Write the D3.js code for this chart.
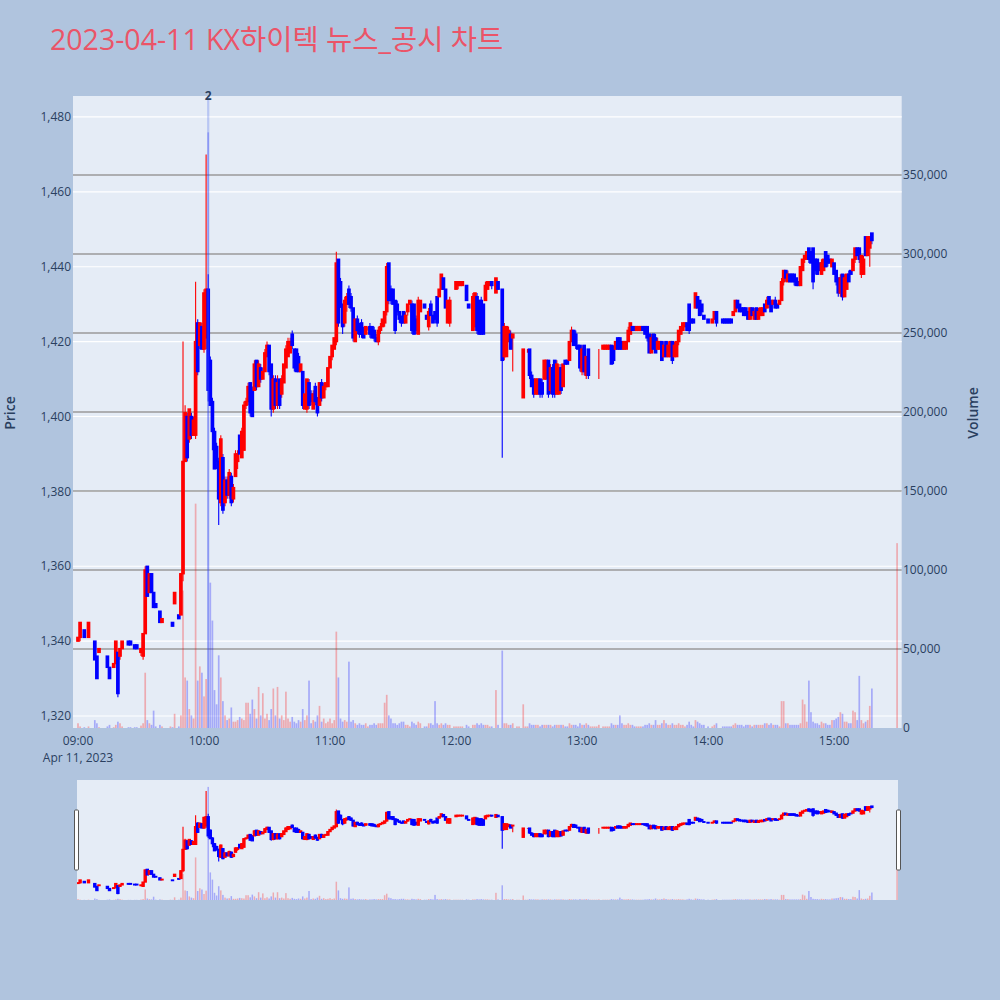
<!DOCTYPE html>
<html><head><meta charset="utf-8">
<script src="https://cdn.jsdelivr.net/npm/d3@7"></script>
<style>
body{margin:0;background:#b0c4de;}
svg text{font-family:"Open Sans","Noto Sans CJK KR",sans-serif;}
</style>
</head><body>
<svg id="chart" width="1000" height="1000"></svg>
<script>
// ---------------- DATA ----------------
const chartTitle = "2023-04-11 KX하이텍 뉴스_공시 차트";
const tradeDate = "Apr 11, 2023";
// minutes after 09:00 for each one-minute candle
const tradeMinutes = [
0,1,3,5,8,9,10,14,15,17,18,19,20,21,24,25,27,28,30,31,32,33,34,35,36,37,39,40,44,45,46,48,49,
50,51,52,53,54,55,56,57,58,59,60,61,62,63,64,65,66,67,68,69,70,71,72,73,74,75,76,77,78,79,
80,81,82,83,84,85,86,87,88,89,90,91,92,93,94,95,96,97,98,99,100,101,102,103,104,105,106,107,108,109,
110,111,112,113,114,115,116,117,118,119,120,121,122,123,124,125,126,127,128,129,130,131,132,133,134,135,136,137,138,139,
140,141,142,143,144,145,146,147,148,149,150,151,152,153,154,155,156,157,158,159,160,161,162,163,
165,166,167,168,169,170,171,172,173,174,175,176,177,
179,180,181,182,183,185,186,
188,189,190,191,192,193,194,195,196,197,
199,200,
202,203,204,205,206,207,
209,210,
212,213,214,215,216,217,218,219,220,221,222,223,224,225,226,227,228,229,230,231,232,233,234,235,236,237,238,239,240,241,242,243,244,245,246,247,248,
250,251,252,253,254,255,256,257,258,259,260,261,262,263,264,265,266,267,268,269,270,271,272,273,274,275,276,277,278,279,280,281,282,283,284,285,286,287,288,289,290,291,292,293,294,295,296,297,298,
300,302,303,304,
307,308,309,310,311,312,313,314,315,316,317,318,319,320,321,322,323,324,325,326,327,328,329,330,331,332,333,334,335,336,337,338,339,340,341,342,343,344,345,346,347,348,349,350,351,352,353,354,355,356,357,358,359,360,361,362,363,364,365,366,367,368,369,370,371,372,373,374,375,376,377,378,
390];
const openPrices = [
1340,1341,1343,1341,1340,1336,1337,1336,1333,1333,1334,1337,1336,1338,1340,1340,1339,1339,1337,1336,1342,1360,1353,1358,1353,1350,1348,1345,1353,1345,1350,1347,1347,
1358,1388,1400,1394,1400,1395,1395,1425,1419,1424,
1418,1421,1434,1415,1404,1396,1392,1388,1377,1389,
1377,1383,1379,1384,1378,1384,1388,1395,1389,1391,
1403,1404,1409,1407,1407,1415,1408,1413,1410,1412,
1416,1419,1414,1402,1410,1403,1410,1406,1409,1413,
1416,1417,1422,1418,1418,1416,1412,1412,1402,1402,
1409,1406,1402,1408,1405,1403,1409,1405,1408,1408,
1413,1416,1418,1420,1442,1436,1430,1425,1430,1434,
1432,1429,1420,1426,1424,1425,1423,1422,1424,1424,
1424,1423,1421,1420,1423,1424,1425,1428,1441,1434,
1434,1431,1430,1428,1426,1428,1425,1428,1430,1430,
1430,1426,1422,1428,
1430,1427,1424,1430,1427,1428,1432,1432,1434,1437,1434,1425,1425,
1435,1434,1435,1435,1435,1435,1430,
1423,1424,1432,1431,1431,1430,1431,1434,1435,1436,
1433,1436,
1434,1416,1416,1420,1422,1421,
1422,1422,
1405,1418,1418,1418,1411,1410,1406,1406,1410,1409,
1410,1410,1415,1407,1413,1415,1406,1406,1413,1408,
1415,1415,1415,1420,1423,1422,1419,1419,1412,1419,
1411,1418,1418,1418,1418,1418,1418,
1418,1418,1418,1418,1419,1418,1418,1421,1421,1420,
1418,1418,1420,1422,1424,1424,1423,1423,1423,1424,
1424,1424,1422,1417,1422,1421,1418,1418,1420,1416,
1420,1416,1416,1420,1416,1416,1420,1422,1423,1424,
1425,1430,1426,1426,1429,1432,1431,1430,1427,
1426,1425,1426,1428,
1426,1426,1426,1426,1426,1427,1428,1431,1430,1429,
1429,1429,1428,1426,1429,1426,1429,1426,1427,1427,
1430,1429,1432,1431,1430,1431,1430,1430,1431,1436,
1439,1436,1438,1438,1438,1437,1436,1435,1439,1442,
1442,1445,1444,1445,1442,1442,1441,1438,1439,1444,
1443,1442,1440,1441,1439,1437,1433,1438,1432,1434,
1438,1439,1439,1442,1445,1445,1438,1438,1448,1443,
1445,1449,
1450];
const highPrices = [
1341,1345,1343,1345,1340,1336,1338,1336,1333,1334,1340,1337,1338,1340,1340,1340,1339,1339,1338,1342,1360,1360,1358,1358,1353,1350,1348,1346,1353,1345,1353,1347,1358,
1420,1403,1401,1402,1401,1400,1436,1426,1425,1425,
1434,1470,1438,1416,1405,1397,1393,1389,1395,1390,
1384,1384,1386,1385,1382,1391,1391,1395,1397,1404,
1405,1409,1409,1408,1415,1415,1415,1414,1413,1418,
1420,1419,1414,1411,1411,1411,1410,1411,1414,1419,
1421,1421,1423,1418,1418,1417,1414,1412,1406,1410,
1410,1407,1407,1409,1405,1409,1410,1409,1409,1413,
1416,1419,1421,1444,1442,1437,1430,1432,1433,1435,
1433,1429,1426,1427,1425,1426,1424,1424,1424,1425,
1424,1424,1422,1424,1425,1426,1428,1441,1441,1435,
1434,1431,1431,1428,1427,1428,1428,1430,1431,1431,
1430,1427,1432,1431,
1430,1427,1429,1431,1427,1428,1432,1434,1438,1437,1434,1431,1432,
1435,1436,1436,1436,1436,1435,1430,
1433,1433,1433,1431,1432,1430,1436,1436,1436,1436,
1437,1436,
1434,1425,1424,1424,1423,1422,
1422,1422,
1418,1418,1418,1418,1412,1410,1410,1410,1410,1410,
1415,1415,1415,1414,1414,1415,1415,1414,1414,1414,
1415,1415,1420,1424,1423,1423,1419,1419,1419,1419,
1416,1418,1418,1418,1418,1418,1418,
1419,1419,1419,1419,1419,1419,1420,1421,1421,1420,
1420,1420,1424,1425,1424,1424,1424,1424,1424,1424,
1424,1424,1422,1422,1422,1422,1421,1420,1420,1420,
1420,1420,1420,1420,1420,1420,1423,1424,1425,1425,
1425,1430,1426,1426,1433,1432,1431,1430,1427,
1426,1426,1428,1428,
1426,1426,1426,1426,1426,1428,1431,1431,1430,1429,
1429,1429,1428,1429,1429,1429,1429,1429,1429,1429,
1430,1432,1432,1431,1431,1432,1430,1431,1437,1439,
1439,1439,1438,1438,1438,1437,1436,1440,1442,1443,
1444,1445,1444,1445,1442,1442,1441,1442,1442,1444,
1443,1442,1442,1441,1439,1437,1438,1438,1438,1438,
1439,1439,1442,1445,1445,1445,1443,1443,1448,1448,
1448,1449,
1450];
const lowPrices = [
1340,1340,1341,1341,1335,1330,1337,1333,1330,1333,1334,1325,1335,1338,1339,1339,1338,1338,1336,1335,1342,1352,1353,1353,1349,1349,1345,1345,1353,1344,1350,1346,1347,
1356,1388,1388,1393,1394,1395,1394,1411,1418,1418,
1417,1418,1404,1403,1391,1386,1386,1371,1376,1374,
1376,1378,1378,1376,1377,1384,1386,1390,1389,1391,
1402,1403,1400,1400,1407,1407,1408,1409,1410,1412,
1416,1411,1400,1401,1402,1402,1402,1405,1409,1413,
1416,1417,1418,1412,1412,1412,1412,1402,1402,1401,
1402,1403,1402,1403,1400,1403,1404,1405,1407,1408,
1413,1415,1418,1419,1424,1429,1422,1424,1428,1429,
1428,1420,1420,1422,1421,1421,1421,1422,1423,1421,
1421,1420,1420,1419,1422,1424,1424,1427,1430,1430,
1430,1422,1427,1425,1424,1425,1425,1427,1430,1422,
1422,1422,1422,1428,
1429,1426,1423,1427,1425,1425,1424,1432,1434,1434,1429,1425,1424,
1435,1434,1434,1435,1435,1431,1429,
1423,1423,1422,1422,1422,1422,1431,1434,1435,1434,
1433,1434,
1389,1415,1416,1420,1418,1412,
1422,1422,
1405,1418,1417,1410,1408,1405,1406,1406,1405,1405,
1410,1410,1405,1406,1405,1405,1406,1406,1406,1408,
1414,1414,1415,1420,1419,1418,1418,1412,1411,1411,
1410,1410,1418,1418,1418,1418,1410,
1418,1418,1418,1418,1414,1414,1418,1418,1418,1418,
1418,1418,1420,1422,1423,1423,1423,1423,1423,1423,
1422,1420,1417,1417,1418,1417,1418,1418,1415,1416,
1416,1416,1416,1414,1416,1416,1419,1422,1423,1424,
1423,1422,1425,1425,1429,1429,1427,1427,1426,
1425,1425,1426,1424,
1425,1425,1425,1425,1425,1427,1428,1429,1428,1428,
1427,1427,1426,1426,1427,1426,1426,1426,1427,1427,
1428,1429,1429,1428,1430,1429,1429,1430,1431,1435,
1436,1436,1436,1436,1435,1435,1435,1435,1439,1441,
1442,1441,1441,1434,1438,1438,1439,1438,1439,1440,
1440,1441,1440,1438,1435,1432,1432,1431,1432,1434,
1436,1438,1439,1441,1443,1441,1437,1438,1443,1443,
1440,1446,
1450];
const closePrices = [
1341,1345,1341,1345,1335,1330,1338,1333,1330,1334,1340,1326,1338,1340,1339,1339,1338,1338,1338,1342,1359,1352,1358,1353,1349,1349,1345,1346,1353,1344,1353,1346,1358,
1388,1401,1389,1402,1395,1399,1420,1412,1425,1418,
1433,1434,1407,1403,1396,1386,1388,1378,1394,1375,
1383,1379,1385,1377,1381,1390,1390,1390,1396,1403,
1404,1408,1401,1400,1414,1408,1414,1410,1412,1417,
1419,1412,1402,1410,1403,1409,1403,1410,1414,1418,
1420,1420,1419,1413,1412,1412,1414,1403,1406,1410,
1403,1404,1406,1404,1401,1409,1405,1408,1409,1413,
1416,1419,1421,1441,1425,1430,1424,1431,1432,1430,
1429,1421,1426,1423,1422,1422,1421,1424,1424,1422,
1421,1421,1420,1423,1424,1426,1428,1440,1431,1431,
1430,1423,1428,1426,1425,1425,1427,1430,1431,1423,
1422,1423,1431,1431,
1429,1426,1428,1427,1425,1426,1425,1434,1438,1434,1429,1431,1431,
1435,1436,1436,1436,1436,1431,1429,
1432,1433,1423,1422,1422,1422,1435,1436,1436,1435,
1437,1434,
1415,1424,1424,1423,1418,1422,
1422,1422,
1418,1418,1418,1411,1408,1406,1410,1410,1406,1406,
1415,1415,1406,1413,1406,1406,1414,1413,1407,1414,
1414,1414,1420,1423,1419,1419,1418,1413,1418,1412,
1416,1411,1418,1418,1418,1418,1418,
1419,1419,1419,1419,1414,1415,1420,1418,1418,1418,
1420,1420,1423,1425,1423,1423,1424,1424,1424,1423,
1422,1421,1417,1421,1418,1417,1420,1420,1415,1419,
1416,1419,1420,1415,1419,1420,1423,1424,1425,1425,
1423,1423,1425,1425,1433,1429,1427,1428,1426,
1425,1426,1428,1425,
1425,1425,1425,1425,1425,1428,1431,1429,1428,1428,
1427,1427,1426,1429,1427,1428,1426,1428,1429,1429,
1428,1431,1430,1428,1431,1429,1429,1431,1436,1439,
1437,1438,1436,1436,1436,1435,1435,1440,1442,1443,
1444,1442,1441,1436,1439,1438,1439,1441,1442,1440,
1441,1441,1442,1438,1436,1433,1437,1432,1437,1438,
1436,1438,1442,1445,1443,1442,1443,1442,1443,1448,
1448,1447,
1450];
const volumes = [
3000,1000,500,1000,5000,3000,500,1000,2000,500,2000,4000,3000,1000,500,500,500,500,1500,3000,35000,5000,3000,2000,11000,1000,2000,1000,1000,500,9000,1000,8000,
87000,32000,30000,12000,8000,6000,142000,30000,39000,35000,
20000,31000,377000,92000,68000,24000,15000,46000,32000,17000,
8000,5000,6000,13000,4000,4000,5000,7000,6000,5000,
16000,16000,9000,18000,12000,6000,26000,8000,22000,6000,
9000,5000,12000,25000,8000,26000,6000,8000,5000,23000,
6000,4000,7000,4000,3000,5000,4000,12000,5000,8000,
30000,3000,5000,4000,8000,14000,4000,6000,3000,4000,
6000,3000,5000,61000,32000,6000,4000,5000,4000,42000,
4000,5000,3000,2000,3000,2000,2000,3000,1000,2000,
2000,3000,2000,3000,3000,3000,16000,21000,8000,6000,
3000,3000,2000,3000,4000,4000,2000,2000,1000,4000,
3000,2000,4000,3000,
1000,1000,3000,3000,2000,17000,3000,2000,3000,2000,3000,2000,2000,
1000,1000,1000,1000,1000,2000,1000,
2000,2000,3000,2000,3000,2000,2000,2000,1000,1000,
24000,2000,
49000,3000,3000,2000,2000,3000,
1000,1000,
15000,1000,1000,3000,2000,2000,2000,2000,1000,2000,
2000,2000,2000,2000,1000,2000,2000,2000,2000,2000,
1000,1000,3000,2000,2000,2000,1000,3000,2000,2000,
3000,2000,1000,1000,1000,1000,2000,
1000,1000,1000,1000,3000,2000,2000,2000,8000,3000,
2000,2000,3000,2000,2000,1000,1000,1000,1000,1000,
2000,2000,3000,2000,2000,5000,2000,2000,3000,5000,
3000,2000,2000,3000,2000,2000,3000,2000,2000,1000,
2000,4000,2000,1000,5000,4000,3000,2000,2000,
1000,1000,2000,3000,
1000,1000,1000,1000,1000,2000,3000,2000,2000,2000,
1000,2000,2000,2000,1000,2000,2000,2000,2000,2000,
3000,3000,2000,3000,2000,2000,2000,1000,17000,17000,
3000,3000,2000,2000,2000,2000,2000,3000,18000,15000,
4000,30000,10000,4000,3000,3000,2000,4000,3000,3000,
2000,2000,5000,5000,6000,7000,10000,9000,4000,4000,
3000,3000,11000,10000,5000,33000,5000,3000,4000,5000,
14000,25000,
117000];
const priceTicks = [1320,1340,1360,1380,1400,1420,1440,1460,1480];
const volumeTicks = [0,50000,100000,150000,200000,250000,300000,350000];
const timeTickLabels = ["09:00","10:00","11:00","12:00","13:00","14:00","15:00"];
const newsMinutes = [62];      // 10:02
const newsCounts = ["2"];

// ---------------- DRAWING ----------------
const svg = d3.select("#chart");
const plot = {left:73, right:901.7, top:96, bottom:728};
const base = new Date(2023,3,11,9,0);
const toDate = m => new Date(base.getTime() + m*60000);
const parseHM = s => { const [h,mm] = s.split(":").map(Number); return (h-9)*60+mm; };

const x = d3.scaleTime().domain([toDate(-2.38), toDate(392.2)]).range([plot.left, plot.right]);
const yP = d3.scaleLinear().domain([1316.8,1485.6]).range([plot.bottom, plot.top]);
const yV = d3.scaleLinear().domain([0,400000]).range([plot.bottom, plot.top]);

const data = tradeMinutes.map((m,i)=>({t:toDate(m), o:openPrices[i], h:highPrices[i], l:lowPrices[i], c:closePrices[i], v:volumes[i]}));
const UP = "#ff0000", DOWN = "#0000ff";
const isUp = d => d.c >= d.o;

svg.append("rect").attr("width",1000).attr("height",1000).attr("fill","#b0c4de");
svg.append("rect").attr("x",plot.left).attr("y",plot.top)
  .attr("width",plot.right-plot.left).attr("height",plot.bottom-plot.top).attr("fill","#e5ecf6");

const defs = svg.append("defs");
defs.append("clipPath").attr("id","clipMain").append("rect")
  .attr("x",plot.left).attr("y",plot.top).attr("width",plot.right-plot.left).attr("height",plot.bottom-plot.top);

// gridlines
svg.append("g").selectAll("line").data(priceTicks).join("line")
  .attr("x1",plot.left).attr("x2",plot.right)
  .attr("y1",d=>yP(d)).attr("y2",d=>yP(d))
  .attr("stroke","#ffffff").attr("stroke-width",1.2);
svg.append("g").selectAll("line").data(volumeTicks.filter(d=>d>0)).join("line")
  .attr("x1",plot.left).attr("x2",plot.right)
  .attr("y1",d=>yV(d)).attr("y2",d=>yV(d))
  .attr("stroke","#9a9a9a").attr("stroke-width",1.3);

function drawCandles(g, xs, ys, bodyW, strokeW){
  g.selectAll("line.wick").data(data).join("line").attr("class","wick")
    .attr("x1",d=>xs(d.t)).attr("x2",d=>xs(d.t))
    .attr("y1",d=>ys(d.h)).attr("y2",d=>ys(d.l))
    .attr("stroke",d=>isUp(d)?UP:DOWN).attr("stroke-width",1.1);
  g.selectAll("rect.body").data(data).join("rect").attr("class","body")
    .attr("x",d=>xs(d.t)-bodyW/2).attr("width",bodyW)
    .attr("y",d=>Math.min(ys(d.o),ys(d.c)))
    .attr("height",d=>Math.abs(ys(d.o)-ys(d.c)))
    .attr("fill",d=>isUp(d)?UP:DOWN)
    .attr("stroke",d=>isUp(d)?UP:DOWN).attr("stroke-width",strokeW);
}
function drawVolume(g, xs, ys, w){
  g.selectAll("rect.vol").data(data).join("rect").attr("class","vol")
    .attr("x",d=>xs(d.t)-w/2).attr("width",w)
    .attr("y",d=>ys(d.v)).attr("height",d=>ys(0)-ys(d.v))
    .attr("fill",d=>isUp(d)?"rgba(255,0,0,0.28)":"rgba(0,0,255,0.28)");
}

const main = svg.append("g").attr("clip-path","url(#clipMain)");
drawCandles(main.append("g"), x, yP, 2.3, 1.4);
drawVolume(main.append("g"), x, yV, 1.7);

// news marker
const newsG = svg.append("g");
newsMinutes.forEach((m,i)=>{
  const nx = x(toDate(m));
  newsG.append("line").attr("x1",nx).attr("x2",nx).attr("y1",plot.top).attr("y2",plot.bottom)
    .attr("stroke","rgba(80,110,235,0.3)").attr("stroke-width",2.2);
  newsG.append("text").attr("x",nx).attr("y",plot.top+4).attr("text-anchor","middle")
    .attr("font-size",12).attr("font-weight",700).attr("fill","#2a3f5f").text(newsCounts[i]);
});

// axes labels
const tickColor = "#2a3f5f";
svg.append("g").selectAll("text").data(priceTicks).join("text")
  .attr("x",71).attr("y",d=>yP(d)).attr("dy","0.35em").attr("text-anchor","end")
  .attr("font-size",12).attr("fill",tickColor).text(d=>d3.format(",")(d));
svg.append("g").selectAll("text").data(volumeTicks).join("text")
  .attr("x",903).attr("y",d=>yV(d)).attr("dy","0.35em").attr("text-anchor","start")
  .attr("font-size",12).attr("fill",tickColor).text(d=>d3.format(",")(d));
svg.append("g").selectAll("text").data(timeTickLabels).join("text")
  .attr("x",d=>x(toDate(parseHM(d)))).attr("y",745).attr("text-anchor","middle")
  .attr("font-size",12).attr("fill",tickColor).text(d=>d);
svg.append("text").attr("x",x(toDate(0))).attr("y",762).attr("text-anchor","middle")
  .attr("font-size",12).attr("fill",tickColor).text(tradeDate);

svg.append("text").attr("transform","translate(10,413) rotate(-90)").attr("text-anchor","middle")
  .attr("dy","0.35em").attr("font-size",14).attr("font-weight",600).attr("fill",tickColor).text("Price");
svg.append("text").attr("transform","translate(973,413) rotate(-90)").attr("text-anchor","middle")
  .attr("dy","0.35em").attr("font-size",14).attr("font-weight",600).attr("fill",tickColor).text("Volume");

svg.append("text").attr("x",50).attr("y",50).attr("font-size",28.5).attr("fill","#eb5468").text(chartTitle);

// range slider
const sl = {left:77, right:898, top:780, bottom:900};
svg.append("rect").attr("x",sl.left).attr("y",sl.top).attr("width",sl.right-sl.left).attr("height",sl.bottom-sl.top).attr("fill","#e5ecf6");
defs.append("clipPath").attr("id","clipSlider").append("rect")
  .attr("x",sl.left).attr("y",sl.top).attr("width",sl.right-sl.left).attr("height",sl.bottom-sl.top);
const yPs = d3.scaleLinear().domain(yP.domain()).range([sl.bottom, sl.top]);
const yVs = d3.scaleLinear().domain(yV.domain()).range([sl.bottom, sl.top]);
const slider = svg.append("g").attr("clip-path","url(#clipSlider)");
drawCandles(slider.append("g"), x, yPs, 2.2, 1.2);
drawVolume(slider.append("g"), x, yVs, 1.5);
[sl.left-2.5, sl.right-1.5].forEach(hx=>{
  svg.append("rect").attr("x",hx).attr("y",810).attr("width",4).attr("height",60)
    .attr("fill","#ffffff").attr("stroke","#555").attr("stroke-width",1).attr("rx",1);
});
</script>
</body></html>
